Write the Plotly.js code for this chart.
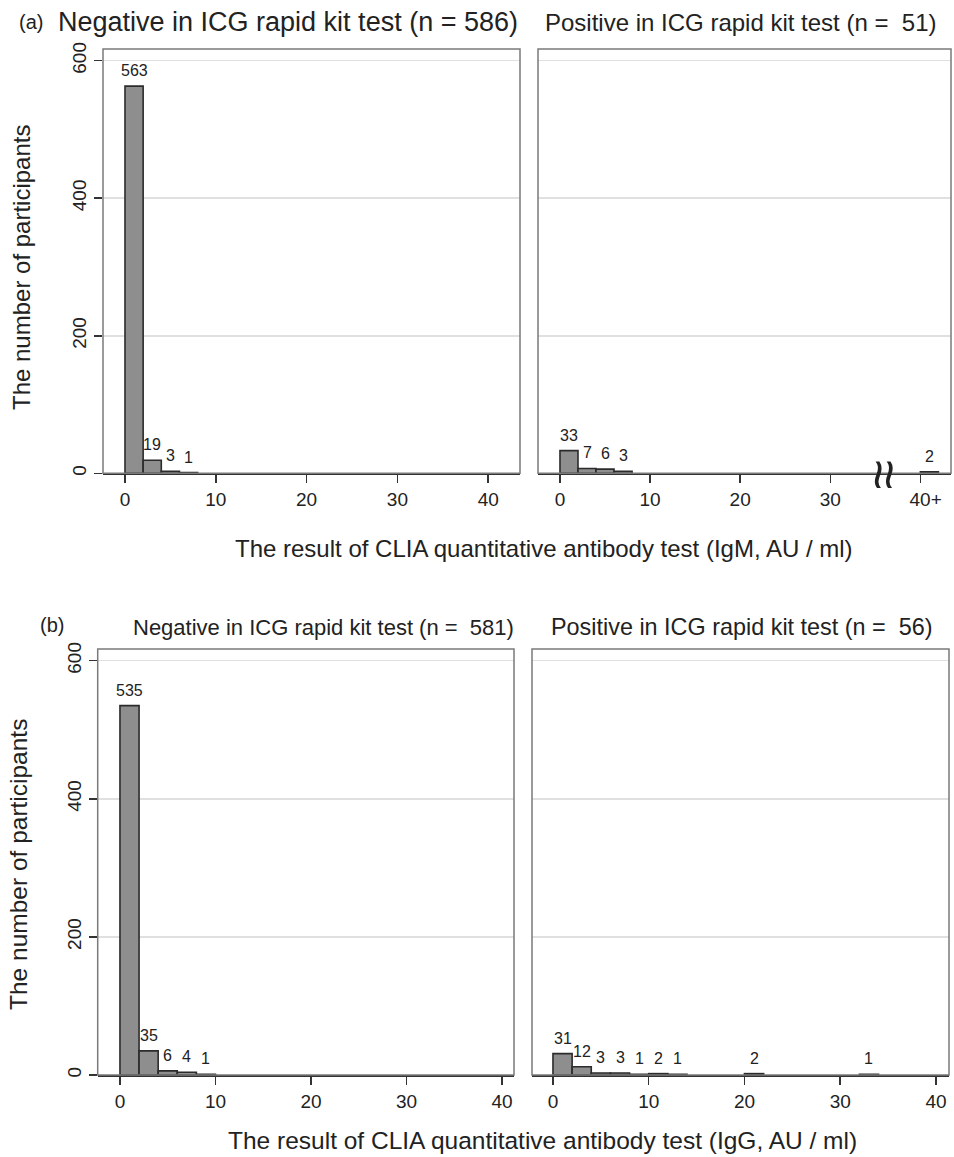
<!DOCTYPE html>
<html>
<head>
<meta charset="utf-8">
<script src="https://cdn.plot.ly/plotly-3.0.1.min.js"></script>
<style>html,body{margin:0;padding:0;background:#fff;}#chart{width:954px;height:1157px;}</style>
</head>
<body>
<div id="chart"></div>
<script>
// ---- data: bin left edges (AU/ml, bin width 2) and counts ----
const binWidth = 2;
const igmNegStart = [0, 2, 4, 6];
const igmNegCount = [563, 19, 3, 1];
const igmPosStart = [0, 2, 4, 6, 40];
const igmPosCount = [33, 7, 6, 3, 2];
const iggNegStart = [0, 2, 4, 6, 8];
const iggNegCount = [535, 35, 6, 4, 1];
const iggPosStart = [0, 2, 4, 6, 8, 10, 12, 20, 32];
const iggPosCount = [31, 12, 3, 3, 1, 2, 1, 2, 1];

const xTickVals = [0, 10, 20, 30, 40];
const xTickText = ['0', '10', '20', '30', '40'];
const xTickTextPlus = ['0', '10', '20', '30', '\u200740+'];
const yTickVals = [0, 200, 400, 600];

const titles = {
  aNeg: 'Negative in ICG rapid kit test (n = 586)',
  aPos: 'Positive in ICG rapid kit test (n =  51)',
  bNeg: 'Negative in ICG rapid kit test (n =  581)',
  bPos: 'Positive in ICG rapid kit test (n =  56)',
  xA: 'The result of CLIA quantitative antibody test (IgM, AU / ml)',
  xB: 'The result of CLIA quantitative antibody test (IgG, AU / ml)',
  y: 'The number of participants'
};

const FONT = 'Liberation Sans, Arial, Helvetica, sans-serif';
const W = 954, H = 1157;
const px = v => v / W;
const py = v => 1 - v / H;

function barTrace(starts, counts, xa, ya) {
  return {
    type: 'bar', x: starts, y: counts, width: binWidth, offset: 0,
    xaxis: xa, yaxis: ya,
    marker: {color: '#8e8e8e', line: {color: '#2b2b2b', width: 1.6}},
    hoverinfo: 'x+y', showlegend: false
  };
}

const data = [
  barTrace(igmNegStart, igmNegCount, 'x', 'y'),
  barTrace(igmPosStart, igmPosCount, 'x2', 'y2'),
  barTrace(iggNegStart, iggNegCount, 'x3', 'y3'),
  barTrace(iggPosStart, iggPosCount, 'x4', 'y4')
];

function xAxis(domain, range, anchor, ticktext) {
  return {
    domain: domain, range: range, anchor: anchor,
    tickmode: 'array', tickvals: xTickVals, ticktext: ticktext,
    ticks: 'outside', ticklen: 8, tickwidth: 1.5, tickcolor: '#333',
    showline: true, linecolor: '#333', linewidth: 1.8,
    showgrid: false, zeroline: false,
    tickfont: {family: FONT, size: 19, color: '#222'}
  };
}
function yAxis(domain, anchor, showLabels) {
  return {
    domain: domain, range: [0, 617], anchor: anchor,
    tickmode: 'array', tickvals: yTickVals,
    ticks: showLabels ? 'outside' : '', ticklen: 8, tickwidth: 1.5, tickcolor: '#333',
    showticklabels: showLabels, tickangle: -90,
    showline: false, zeroline: false,
    showgrid: true, gridcolor: '#e0e0e0', gridwidth: 1.5,
    tickfont: {family: FONT, size: 19, color: '#222'}
  };
}

const layout = {
  width: W, height: H,
  margin: {l: 0, r: 0, t: 0, b: 0},
  paper_bgcolor: '#fff', plot_bgcolor: '#fff',
  bargap: 0,
  xaxis:  xAxis([px(103), px(520)], [-2.42, 43.5], 'y', xTickText),
  yaxis:  yAxis([py(473.3), py(49)], 'x', true),
  xaxis2: xAxis([px(538), px(951)], [-2.44, 43.4], 'y2', xTickTextPlus),
  yaxis2: yAxis([py(473.3), py(49)], 'x2', false),
  xaxis3: xAxis([px(97.7), px(514)], [-2.33, 41.25], 'y3', xTickText),
  yaxis3: yAxis([py(1075), py(649)], 'x3', true),
  xaxis4: xAxis([px(532), px(949)], [-2.19, 41.36], 'y4', xTickText),
  yaxis4: yAxis([py(1075), py(649)], 'x4', false),
  shapes: [],
  annotations: []
};

// frames around each panel
[['x','y'],['x2','y2'],['x3','y3'],['x4','y4']].forEach(([xa, ya]) => {
  layout.shapes.push({type: 'rect', xref: xa + ' domain', yref: ya + ' domain',
    x0: 0, x1: 1, y0: 0, y1: 1, line: {color: '#7a7a7a', width: 1.5}, layer: 'above'});
});

// bar count labels
function countLabels(starts, counts, xa, ya) {
  starts.forEach((s, i) => {
    layout.annotations.push({
      x: s + binWidth / 2, y: counts[i], xref: xa, yref: ya,
      text: String(counts[i]), showarrow: false,
      xanchor: 'center', yanchor: 'bottom', yshift: 5,
      font: {family: FONT, size: 16, color: '#222'}
    });
  });
}
countLabels(igmNegStart, igmNegCount, 'x', 'y');
countLabels(igmPosStart, igmPosCount, 'x2', 'y2');
countLabels(iggNegStart, iggNegCount, 'x3', 'y3');
countLabels(iggPosStart, iggPosCount, 'x4', 'y4');

// axis break mark on IgM positive panel
layout.annotations.push({x: 36, y: 0, xref: 'x2', yref: 'y2', text: '\u2248', showarrow: false,
  textangle: 90, xanchor: 'center', yanchor: 'middle', yshift: -2,
  font: {family: FONT, size: 54, color: '#222'}});

function txt(text, x, y, size, opts) {
  layout.annotations.push(Object.assign({
    text: text, x: px(x), y: py(y), xref: 'paper', yref: 'paper', showarrow: false,
    xanchor: 'center', yanchor: 'middle', font: {family: FONT, size: size, color: '#222'}
  }, opts || {}));
}
txt('(a)', 31, 22, 20);
txt(titles.aNeg, 288, 22, 27);
txt(titles.aPos, 741, 22, 24);
txt(titles.y, 22, 268, 24, {textangle: -90});
txt(titles.xA, 544, 548, 24);

txt('(b)', 52, 625, 20);
txt(titles.bNeg, 323, 627, 22);
txt(titles.bPos, 742, 627, 23.4);
txt(titles.y, 18, 865, 24.5, {textangle: -90});
txt(titles.xB, 542, 1140, 24.5);

Plotly.newPlot('chart', data, layout, {displayModeBar: false, staticPlot: true});
</script>
</body>
</html>
